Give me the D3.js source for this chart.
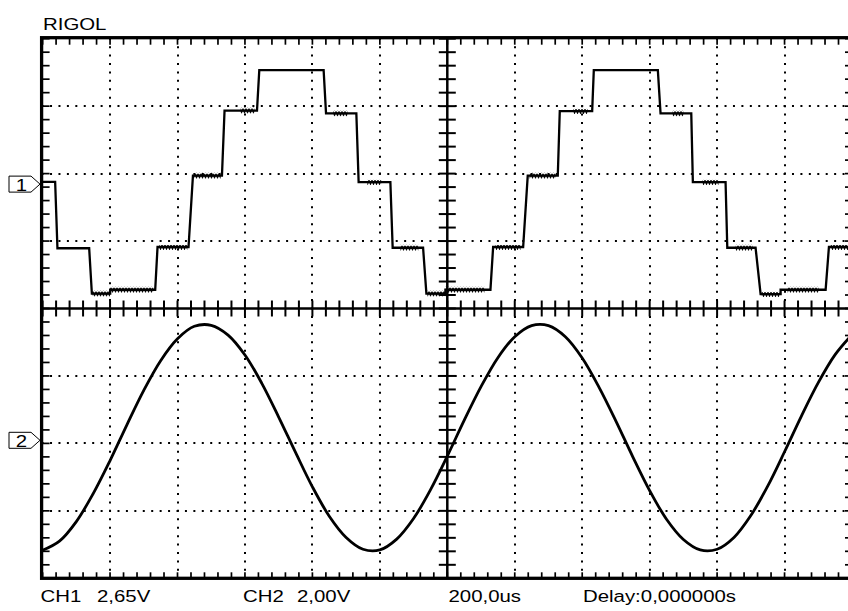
<!DOCTYPE html>
<meta charset="utf-8">
<style>
    body {
        margin: 0;
        background: #fff;
    }

    text {
        font-family: "Liberation Sans", Arial, sans-serif;
        font-size: 17px;
        fill: #000;
    }
</style>

<body>
    <script src="https://d3js.org/d3.v7.min.js"></script>
    <script>
        // scope settings
        var timebase = 200,          // us / div
            ch1Scale = 2.65,         // V / div
            ch2Scale = 2.00,
            ch1Offset = 1.844,       // div
            ch2Offset = -1.954;

        // CH1 : staircase (time us, volts)
        var ch1Steps = [
            [-1200, 0.09], [-1162.8, 0.09], [-1156.0, -2.52], [-1061.9, -2.52],
            [-1053.9, -4.30], [-999.6, -4.30], [-999.6, -4.15], [-866.1, -4.15],
            [-859.2, -2.47], [-767.3, -2.47], [-754.2, 0.33], [-668.2, 0.33],
            [-660.5, 2.89], [-564.3, 2.89], [-557.5, 4.48], [-366.7, 4.48],
            [-359.6, 2.78], [-269.7, 2.78], [-262.9, 0.08], [-168.8, 0.08],
            [-162.0, -2.50], [-71.8, -2.50], [-62.0, -4.30], [-5.6, -4.30],
            [-5.6, -4.15], [127.9, -4.15], [135.9, -2.47], [224.9, -2.47],
            [238.5, 0.33], [327.6, 0.33], [333.5, 2.87], [429.6, 2.87],
            [434.4, 4.48], [624.3, 4.48], [632.3, 2.78], [723.4, 2.78],
            [728.1, 0.08], [825.1, 0.08], [830.2, -2.50], [914.1, -2.50],
            [929.0, -4.32], [988.3, -4.32], [988.3, -4.15], [1121.8, -4.15],
            [1131.6, -2.47], [1200, -2.47]
        ];

        // CH1 : spans with ripple (t start, t end, volts)
        var ch1Noise = [
            [-1053, -1000, -4.30], [-1000, -872, -4.15], [-854, -771, -2.47],
            [-751, -672, 0.33], [-613, -572, 2.89], [-338, -296, 2.78],
            [-237, -196, 0.08], [-139, -86, -2.50], [-59, -6, -4.30],
            [-6, 110, -4.15], [143, 217, -2.47], [244, 321, 0.33],
            [374, 416, 2.87], [668, 700, 2.78], [757, 804, 0.08],
            [855, 905, -2.50], [932, 985, -4.32], [1009, 1101, -4.15],
            [1137, 1200, -2.47]
        ];

        // CH2 : sine (time us, volts)
        var ch2Wave = [
            [-1200, -3.26], [-1150, -2.99], [-1100, -2.41], [-1050, -1.58],
            [-1000, -0.60], [-950, 0.46], [-900, 1.48], [-850, 2.36],
            [-800, 3.01], [-750, 3.38], [-700, 3.41], [-650, 3.12],
            [-600, 2.53], [-550, 1.69], [-500, 0.69], [-450, -0.36],
            [-400, -1.38], [-350, -2.25], [-300, -2.88], [-250, -3.23],
            [-200, -3.25], [-150, -2.93], [-100, -2.32], [-50, -1.47],
            [0, -0.47], [50, 0.59], [100, 1.59], [150, 2.45],
            [200, 3.07], [250, 3.40], [300, 3.40], [350, 3.07],
            [400, 2.44], [450, 1.57], [500, 0.57], [550, -0.49],
            [600, -1.49], [650, -2.34], [700, -2.94], [750, -3.25],
            [800, -3.23], [850, -2.88], [900, -2.23], [950, -1.36],
            [1000, -0.34], [1050, 0.72], [1100, 1.71], [1150, 2.54],
            [1200, 3.13]
        ];

        var title = "RIGOL";
        var statusLabels = ["CH1", "2,65V", "CH2", "2,00V", "200,0us", "Delay:0,000000s"];
        var statusX = [40.5, 97, 243, 297, 448.5, 583];

        var width = 848,
            height = 611;

        var gLeft = 42.6,
            gTop = 38.7,
            div = 67.45,
            gRight = gLeft + 12 * div,
            gBottom = gTop + 8 * div;

        var svg = d3.select("body").append("svg")
            .attr("width", width)
            .attr("height", height);

        var x = d3.scaleLinear().domain([-6 * timebase, 6 * timebase]).range([gLeft, gRight]),
            y = d3.scaleLinear().domain([-4, 4]).range([gBottom, gTop]);

        var y1 = function(v) { return y(ch1Offset + v / ch1Scale); },
            y2 = function(v) { return y(ch2Offset + v / ch2Scale); };

        var majorT = d3.range(-6, 7).map(function(d) { return d * timebase; }),
            minorT = d3.range(-30, 31).map(function(d) { return d * timebase / 5; }),
            majorV = d3.range(-4, 5),
            minorV = d3.range(-20, 21).map(function(d) { return d / 5; });

        var defs = svg.append("defs");
        var pat = defs.append("pattern")
            .attr("id", "ripple")
            .attr("patternUnits", "userSpaceOnUse")
            .attr("x", 0).attr("y", -3)
            .attr("width", 3).attr("height", 6);
        pat.append("path")
            .attr("d", "M0,1.2 L1.5,4.8 L3,1.2")
            .attr("fill", "none")
            .attr("stroke", "#000")
            .attr("stroke-width", 1.4);

        defs.append("clipPath").attr("id", "screen")
            .append("rect")
            .attr("x", gLeft).attr("y", gTop)
            .attr("width", gRight - gLeft).attr("height", gBottom - gTop);

        // dotted grid
        var dots = "2 " + (div / 8 - 2);
        svg.append("g").selectAll("line")
            .data(majorT.filter(function(d) { return d !== 0 && Math.abs(d) < 6 * timebase; }))
            .join("line")
            .attr("x1", function(d) { return Math.round(x(d)); })
            .attr("x2", function(d) { return Math.round(x(d)); })
            .attr("y1", gTop).attr("y2", gBottom)
            .attr("stroke", "#000").attr("stroke-width", 2)
            .attr("stroke-dasharray", dots).attr("stroke-dashoffset", 1);

        svg.append("g").selectAll("line")
            .data(majorV.filter(function(d) { return d !== 0 && Math.abs(d) < 4; }))
            .join("line")
            .attr("y1", function(d) { return Math.round(y(d)); })
            .attr("y2", function(d) { return Math.round(y(d)); })
            .attr("x1", gLeft).attr("x2", gRight)
            .attr("stroke", "#000").attr("stroke-width", 2)
            .attr("stroke-dasharray", dots).attr("stroke-dashoffset", 1);

        // centre axes with cross ticks
        var cx = x(0), cy = y(0);
        var axes = svg.append("g").attr("stroke", "#000");
        axes.append("line").attr("x1", gLeft).attr("x2", gRight).attr("y1", cy).attr("y2", cy).attr("stroke-width", 2.5);
        axes.append("line").attr("x1", cx).attr("x2", cx).attr("y1", gTop).attr("y2", gBottom).attr("stroke-width", 2.5);
        axes.append("g").selectAll("line").data(minorT).join("line")
            .attr("x1", function(d) { return x(d); }).attr("x2", function(d) { return x(d); })
            .attr("y1", cy - 8).attr("y2", cy + 8).attr("stroke-width", 2);
        axes.append("g").selectAll("line").data(minorV).join("line")
            .attr("y1", function(d) { return y(d); }).attr("y2", function(d) { return y(d); })
            .attr("x1", cx - 8.5).attr("x2", cx + 8.5).attr("stroke-width", 2);

        // border ticks
        var bt = svg.append("g").attr("stroke", "#000").attr("stroke-width", 1.7);
        bt.append("g").selectAll("line").data(minorT).join("line")
            .attr("x1", function(d) { return x(d); }).attr("x2", function(d) { return x(d); })
            .attr("y1", gTop).attr("y2", gTop + 6);
        bt.append("g").selectAll("line").data(minorT).join("line")
            .attr("x1", function(d) { return x(d); }).attr("x2", function(d) { return x(d); })
            .attr("y1", gBottom).attr("y2", gBottom - 6);
        bt.append("g").selectAll("line").data(minorV).join("line")
            .attr("y1", function(d) { return y(d); }).attr("y2", function(d) { return y(d); })
            .attr("x1", gLeft).attr("x2", gLeft + 7);
        bt.append("g").selectAll("line").data(minorV).join("line")
            .attr("y1", function(d) { return y(d); }).attr("y2", function(d) { return y(d); })
            .attr("x1", gRight).attr("x2", gRight - 7);

        // frame
        svg.append("rect")
            .attr("x", gLeft - 1).attr("y", gTop - 1)
            .attr("width", gRight - gLeft + 1).attr("height", gBottom - gTop + 1)
            .attr("fill", "none").attr("stroke", "#000").attr("stroke-width", 3.3);

        // traces
        var traces = svg.append("g").attr("clip-path", "url(#screen)");

        var line1 = d3.line()
            .x(function(d) { return x(d[0]); })
            .y(function(d) { return y1(d[1]); });

        traces.append("path")
            .datum(ch1Steps)
            .attr("d", line1)
            .attr("fill", "none")
            .attr("stroke", "#000")
            .attr("stroke-width", 2.3)
            .attr("stroke-linejoin", "miter");

        traces.append("g").selectAll("g").data(ch1Noise).join("g")
            .attr("transform", function(d) { return "translate(0," + y1(d[2]) + ")"; })
            .append("rect")
            .attr("x", function(d) { return x(d[0]); })
            .attr("width", function(d) { return x(d[1]) - x(d[0]); })
            .attr("y", -3).attr("height", 6)
            .attr("fill", "url(#ripple)");

        var line2 = d3.line()
            .curve(d3.curveCatmullRom)
            .x(function(d) { return x(d[0]); })
            .y(function(d) { return y2(d[1]); });

        traces.append("path")
            .datum(ch2Wave)
            .attr("d", line2)
            .attr("fill", "none")
            .attr("stroke", "#000")
            .attr("stroke-width", 2.8);

        // channel markers
        function marker(label, yy) {
            var g = svg.append("g");
            g.append("path")
                .attr("d", "M9," + (yy - 8) + "H31L40," + yy + "L31," + (yy + 8) + "H9Z")
                .attr("fill", "#fff").attr("stroke", "#000").attr("stroke-width", 1);
            g.append("text")
                .attr("transform", "translate(21.5," + (yy + 6.5) + ") scale(1.2,1)")
                .attr("text-anchor", "middle")
                .text(label);
        }
        marker("1", y1(0));
        marker("2", y2(0));

        // texts
        svg.append("text")
            .attr("transform", "translate(43,29.5) scale(1.2,1)")
            .text(title);

        svg.append("g").selectAll("text").data(statusLabels).join("text")
            .attr("transform", function(d, i) { return "translate(" + statusX[i] + ",602) scale(1.2,1)"; })
            .text(function(d) { return d; });
    </script>
</body>
